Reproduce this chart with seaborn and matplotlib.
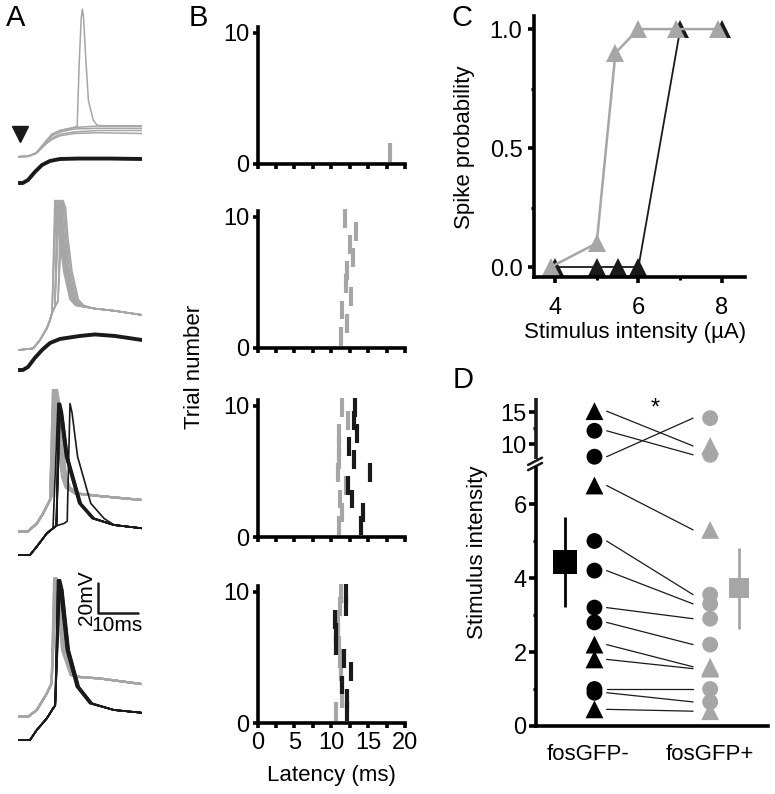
import numpy as np
import pandas as pd
import matplotlib
matplotlib.use("Agg")
import matplotlib.pyplot as plt
import seaborn as sns

GRAY = "#a6a6a6"
W, H = 775, 794

# ---------------- panel A: voltage traces (ms, mV relative to black baseline)
a1_black_t = [0, 1.2, 2.5, 4.2, 6, 8, 10.5, 15, 23, 31]
a1_black_v = [0, 0, 2, 7.3, 12, 14.7, 16, 16.3, 16.3, 16]
a1_gray_t = [0, 2.5, 4.5, 5.5, 7, 8.5, 10.5, 14, 20, 31]
a1_gray_v = [[17.5, 17.8, 20, 23, 28, 32.5, 35, 37, 38, 38],
             [17.5, 17.8, 20, 23, 27.5, 31.5, 34, 36, 36.5, 36.5],
             [17.5, 17.8, 20, 22.5, 26.5, 30, 32.5, 34, 35, 35],
             [17.5, 17.8, 19.5, 22, 26, 29, 31.5, 33, 33.5, 33]]
a1_spike_t = [0, 2.5, 4.5, 5.5, 7, 8.5, 10.5, 14, 14.8, 15.3, 15.8, 16.1, 16.4, 16.9, 17.6, 18.8, 19.8, 22, 31]
a1_spike_v = [17.5, 17.8, 20, 23, 28, 32.5, 35, 37, 38, 80, 110, 116, 110, 85, 55, 42, 38.5, 38, 38]

a2_black_t = [0, 1.2, 2.5, 4.2, 6, 8, 10.5, 15.5, 19.2, 24.2, 31]
a2_black_v = [0, 0, 2, 8, 13.3, 18, 20.7, 22.7, 23.7, 22.7, 20]
a2_gray_pre_t = [0, 3.8, 5.5, 7.2, 8, 8.5, 9.2, 10, 11]
a2_gray_pre_v = [13.3, 14.4, 20, 27.8, 33.3, 38, 42, 46, 49]
a2_gray_spike_dt = [0, 0.6, 1.2, 2.2, 3.8, 5.2]
a2_gray_spike_v = [113, 108, 88, 66, 47, 43]
a2_gray_tail_t = [19, 24, 31]
a2_gray_tail_v = [41, 39.5, 36.7]
a2_gray_peaks = [9.2, 9.4, 9.6, 9.8, 10.0, 10.2, 10.4, 10.7, 11.0, 11.3]

a3_gray_pre_t = [0, 2.5, 4.7, 6.3, 8, 8.5]
a3_gray_pre_v = [15.5, 15.8, 21, 27.8, 36.7, 40]
a3_gray_spike_dt = [0, 0.5, 1.3, 2.3, 3.2, 5.5]
a3_gray_spike_v = [110, 102, 75, 52, 45, 41]
a3_gray_tail_t = [20.4, 30.8]
a3_gray_tail_v = [39.3, 36.7]
a3_gray_peaks = [8.7, 8.8, 8.9, 9.0, 9.1, 9.2, 9.3, 9.4, 9.6, 9.8]
a3_black_pre_t = [0, 3, 4.7, 7.2, 8.75, 9.6, 11.5, 12.3]
a3_black_pre_v = [0, 0, 5.6, 14.4, 17.8, 19.5, 21, 22.5]
a3_black_spike_dt = [0, 0.5, 1.9, 5.2, 8.5]
a3_black_spike_v = [101, 95, 65.5, 34.4, 24.4]
a3_black_tail_t = [24, 31]
a3_black_tail_v = [20, 17.8]
a3_black_peaks = [10.0, 10.1, 10.2, 10.3, 10.4, 10.5, 10.6, 13.0]

a4_gray_pre_t = [0, 2.5, 4.7, 7.2, 8.4]
a4_gray_pre_v = [15.5, 15.5, 20, 31, 37.8]
a4_gray_spike_dt = [0, 0.5, 2, 4.1, 6]
a4_gray_spike_v = [107.8, 100, 60, 43.3, 42]
a4_gray_tail_t = [20.5, 30.9]
a4_gray_tail_v = [41, 37.3]
a4_gray_peaks = [9.0, 9.1, 9.2, 9.3, 9.4, 9.5, 9.6, 9.7]
a4_black_pre_t = [0, 3, 4.7, 7.2, 8.75, 9.3]
a4_black_pre_v = [0, 0, 6.7, 14.4, 21, 23]
a4_black_spike_dt = [0, 0.6, 2.2, 4.7, 8]
a4_black_spike_v = [106.7, 100, 60, 35.5, 24.4]
a4_black_tail_t = [24, 30.8]
a4_black_tail_v = [20, 18.2]
a4_black_peaks = [9.9, 10.0, 10.1, 10.2, 10.3, 10.4, 10.5, 10.6]

# ---------------- panel B: spike latencies (ms), trial 1..10
trials = list(range(1, 11))
b1_trials = [1]
b1_gray = [18.0]
b2_gray = [11.35, 12.1, 11.4, 12.7, 11.95, 12.1, 12.9, 12.6, 13.4, 11.9]
b3_gray = [11.1, 11.5, 11.2, 12.0, 10.9, 11.1, 11.0, 11.0, 12.3, 11.5]
b3_black = [14.0, 14.3, 12.8, 12.3, 15.2, 13.1, 12.45, 13.5, 13.1, 13.2]
b4_gray = [10.6, 11.5, 11.45, 11.3, 11.2, 11.1, 10.95, 10.9, 11.2, 11.3]
b4_black = [12.2, 12.2, 11.5, 12.7, 11.7, 10.6, 10.6, 10.55, 12.0, 12.0]

# ---------------- panel C: spike probability vs stimulus
c_stim_gray = [3.9, 5.0, 5.45, 6.0, 6.9, 7.9]
c_prob_gray = [0.0, 0.1, 0.9, 1.0, 1.0, 1.0]
c_stim_black = [4.0, 5.0, 5.5, 6.0, 7.0, 8.0]
c_prob_black = [0.0, 0.0, 0.0, 0.0, 1.0, 1.0]

# ---------------- panel D: threshold stimulus intensity, paired cells
d_neg = [15.2, 12.1, 8.0, 6.5, 5.0, 4.2, 3.2, 2.8, 2.2, 1.8, 1.0, 0.9, 0.45]
d_pos = [9.7, 8.3, 14.1, 5.3, 3.55, 3.3, 2.9, 2.2, 1.6, 1.55, 1.0, 0.65, 0.4]
d_shape = ["^", "o", "o", "^", "o", "o", "o", "o", "^", "^", "o", "o", "^"]
d_groups = ["fosGFP-", "fosGFP+"]
d_mean = [4.43, 3.72]
d_sd = [1.22, 1.1]


def box(left, top, right, bottom):
    return [left / W, 1 - bottom / H, (right - left) / W, (bottom - top) / H]


def spike_trace(pre_t, pre_v, peak, dt, sv, tail_t, tail_v):
    n = sum(1 for t in pre_t if t < peak - 0.4)
    ts = list(pre_t[:n]) + [peak + d for d in dt]
    vs = list(pre_v[:n]) + list(sv)
    end = ts[-1]
    ts += [t for t in tail_t if t > end]
    vs += [v for t, v in zip(tail_t, tail_v) if t > end]
    return ts, vs


def fwd(v):
    v = np.asarray(v, dtype=float)
    return np.where(v <= 7, v, 7.62 + (v - 10) * 0.171)


def inv(t):
    t = np.asarray(t, dtype=float)
    return np.where(t <= 7, t, np.where(t < 7.107, 7.0, 10 + (t - 7.62) / 0.171))


sns.set_theme(style="ticks")
plt.rcParams["font.family"] = ["Liberation Sans", "DejaVu Sans"]
plt.rcParams.update({
    "axes.linewidth": 2.6, "xtick.major.width": 2.6, "ytick.major.width": 2.6,
    "xtick.minor.width": 2.2, "ytick.minor.width": 2.2,
    "xtick.major.size": 3.6, "ytick.major.size": 3.6,
    "xtick.labelsize": 17, "ytick.labelsize": 17,
    "xtick.color": "black", "ytick.color": "black", "axes.edgecolor": "black",
    "text.color": "black", "axes.labelcolor": "black",
})

fig = plt.figure(figsize=(W / 100, H / 100), dpi=100)

# ---- A
a_rows = [(0, 190, 183), (190, 380, 370), (380, 565, 555), (565, 794, 740)]
axA = []
for top, bottom, y0 in a_rows:
    ax = fig.add_axes(box(18, top, 142, bottom))
    ax.set_xlim(0, 31)
    ax.set_ylim((y0 - bottom) / 1.5, (y0 - top) / 1.5)
    ax.axis("off")
    axA.append(ax)

ax = axA[0]
for v in a1_gray_v:
    ax.plot(a1_gray_t, v, color=GRAY, lw=1.1)
ax.plot(a1_spike_t, a1_spike_v, color=GRAY, lw=1.1)
ax.plot(a1_black_t, a1_black_v, color="k", lw=2.8)
ax.plot(0.5, 33, marker="v", ms=12, color="k", clip_on=False)

ax = axA[1]
for p in a2_gray_peaks:
    t, v = spike_trace(a2_gray_pre_t, a2_gray_pre_v, p, a2_gray_spike_dt, a2_gray_spike_v,
                       a2_gray_tail_t, a2_gray_tail_v)
    ax.plot(t, v, color=GRAY, lw=1.1)
ax.plot(a2_black_t, a2_black_v, color="k", lw=2.8)

ax = axA[2]
for p in a3_gray_peaks:
    t, v = spike_trace(a3_gray_pre_t, a3_gray_pre_v, p, a3_gray_spike_dt, a3_gray_spike_v,
                       a3_gray_tail_t, a3_gray_tail_v)
    ax.plot(t, v, color=GRAY, lw=1.5)
for p in a3_black_peaks:
    t, v = spike_trace(a3_black_pre_t, a3_black_pre_v, p, a3_black_spike_dt, a3_black_spike_v,
                       a3_black_tail_t, a3_black_tail_v)
    ax.plot(t, v, color="k", lw=1.2)

ax = axA[3]
for p in a4_gray_peaks:
    t, v = spike_trace(a4_gray_pre_t, a4_gray_pre_v, p, a4_gray_spike_dt, a4_gray_spike_v,
                       a4_gray_tail_t, a4_gray_tail_v)
    ax.plot(t, v, color=GRAY, lw=1.5)
for p in a4_black_peaks:
    t, v = spike_trace(a4_black_pre_t, a4_black_pre_v, p, a4_black_spike_dt, a4_black_spike_v,
                       a4_black_tail_t, a4_black_tail_v)
    ax.plot(t, v, color="k", lw=1.2)
# scale bar 20 mV / 10 ms
ax.plot([20.1, 20.1, 30.1], [105, 85, 85], color="k", lw=1.8, clip_on=False)
ax.text(17.2, 95, "20mV", rotation=90, ha="center", va="center", fontsize=15)
ax.text(24.8, 76.5, "10ms", ha="center", va="center", fontsize=15)

# ---- B
b_bottoms = [164, 348, 537, 723]
b_data = [(b1_trials, b1_gray, None), (trials, b2_gray, None),
          (trials, b3_gray, b3_black), (trials, b4_gray, b4_black)]
for i, (bottom, (tr, gray, black)) in enumerate(zip(b_bottoms, b_data)):
    ax = fig.add_axes(box(257.5, bottom - 137, 405, bottom))
    tr = np.array(tr)
    ax.vlines(gray, tr - 0.82, tr + 0.62, color=GRAY, lw=3.0, clip_on=False)
    if black is not None:
        ax.vlines(black, tr - 0.82, tr + 0.62, color="k", lw=3.0, clip_on=False)
    ax.set_xlim(0, 20)
    ax.set_ylim(0, 10.45)
    sns.despine(ax=ax)
    ax.set_yticks([0, 10])
    ax.set_xticks(np.arange(0, 20.1, 2.5))
    ax.tick_params(axis="y", pad=2)
    ax.tick_params(axis="x", pad=3)
    if i == 3:
        ax.set_xticklabels(["0", "", "5", "", "10", "", "15", "", "20"])
    else:
        ax.set_xticklabels([])

# ---- C
ax = fig.add_axes(box(534, 16, 745, 277))
sns.lineplot(x=c_stim_black, y=c_prob_black, color="k", marker="^", markersize=13,
             markeredgewidth=0, lw=1.3, ax=ax, clip_on=False)
sns.lineplot(x=c_stim_gray, y=c_prob_gray, color=GRAY, marker="^", markersize=13,
             markeredgewidth=0, lw=1.8, ax=ax, clip_on=False)
ax.set_xlim(3.5, 8.55)
ax.set_ylim(-0.042, 1.055)
sns.despine(ax=ax)
ax.set_xticks([4, 6, 8])
ax.set_xticks([5, 7], minor=True)
ax.set_yticks([0, 0.5, 1.0])
ax.set_yticklabels(["0.0", "0.5", "1.0"])
ax.set_yticks([0.25, 0.75], minor=True)
ax.tick_params(which="major", length=4.3)
ax.tick_params(which="minor", length=2.5)
ax.tick_params(axis="x", which="major", pad=10)
ax.tick_params(axis="y", pad=4)

# ---- D
ax = fig.add_axes(box(536, 398, 768, 726))
ax.set_yscale("function", functions=(fwd, inv))
ax.set_xlim(-0.43, 1.475)
ax.set_ylim(0, 17.28)
for a, b in zip(d_neg, d_pos):
    ax.plot([0.15, 0.86], [a, b], color="k", lw=0.9)
n = len(d_neg)
df = pd.DataFrame({
    "x": [0.05] * n + [1.0] * n,
    "y": d_neg + d_pos,
    "group": [d_groups[0]] * n + [d_groups[1]] * n,
    "shape": d_shape + d_shape,
})
sns.scatterplot(data=df, x="x", y="y", hue="group", style="shape", size="shape",
                palette={d_groups[0]: "black", d_groups[1]: GRAY},
                markers={"o": "o", "^": "^"}, sizes={"o": 130, "^": 165},
                linewidth=0, legend=False, ax=ax, clip_on=False, zorder=3)
ax.errorbar([-0.19], [d_mean[0]], yerr=[d_sd[0]], fmt="s", color="black", ms=17, mew=0,
            capsize=5, elinewidth=2.0, capthick=2.0, zorder=3)
ax.errorbar([1.24], [d_mean[1]], yerr=[d_sd[1]], fmt="s", color=GRAY, ms=14.5, mew=0,
            capsize=5, elinewidth=2.0, capthick=2.0, zorder=3)
ax.text(0.55, 15.6, "*", fontsize=17, ha="center", va="center")
sns.despine(ax=ax)
ax.spines["left"].set_bounds(0, 6.97)
ax.plot([0, 0], [7.66, 17.28], color="k", lw=2.6, transform=ax.get_yaxis_transform(),
        clip_on=False, solid_capstyle="butt")
for y1, y2 in [(0.780, 0.802), (0.796, 0.818)]:
    ax.plot([-0.034, 0.026], [y1, y2], color="k", lw=1.8, transform=ax.transAxes, clip_on=False)
ax.set_yticks([0, 2, 4, 6, 10, 15])
ax.set_yticklabels(["0", "2", "4", "6", "10", "15"])
ax.set_yticks([1, 3, 5, 12.5], minor=True)
ax.yaxis.set_minor_formatter(matplotlib.ticker.NullFormatter())
ax.set_xticks([0, 1])
ax.set_xticklabels(d_groups, fontsize=16)
ax.tick_params(axis="x", length=0, pad=13)
ax.tick_params(axis="y", which="major", length=4.7, pad=2)
ax.tick_params(axis="y", which="minor", length=2.5, width=2.2)
ax.set_xlabel("")
ax.set_ylabel("")

# ---- labels
def ftext(x, y, s, **kw):
    fig.text(x / W, 1 - y / H, s, ha="center", va="center", **kw)

ftext(16, 18, "A", fontsize=21)
ftext(198, 18, "B", fontsize=21)
ftext(462, 18, "C", fontsize=21)
ftext(463, 380, "D", fontsize=21)
ftext(194, 367, "Trial number", fontsize=16, rotation=90)
ftext(331, 775, "Latency (ms)", fontsize=16)
ftext(464, 147, "Spike probability", fontsize=16, rotation=90)
ftext(635, 333, "Stimulus intensity (\u00b5A)", fontsize=16)
ftext(477, 552, "Stimulus intensity", fontsize=16, rotation=90)

fig.savefig("out.png", dpi=100)
